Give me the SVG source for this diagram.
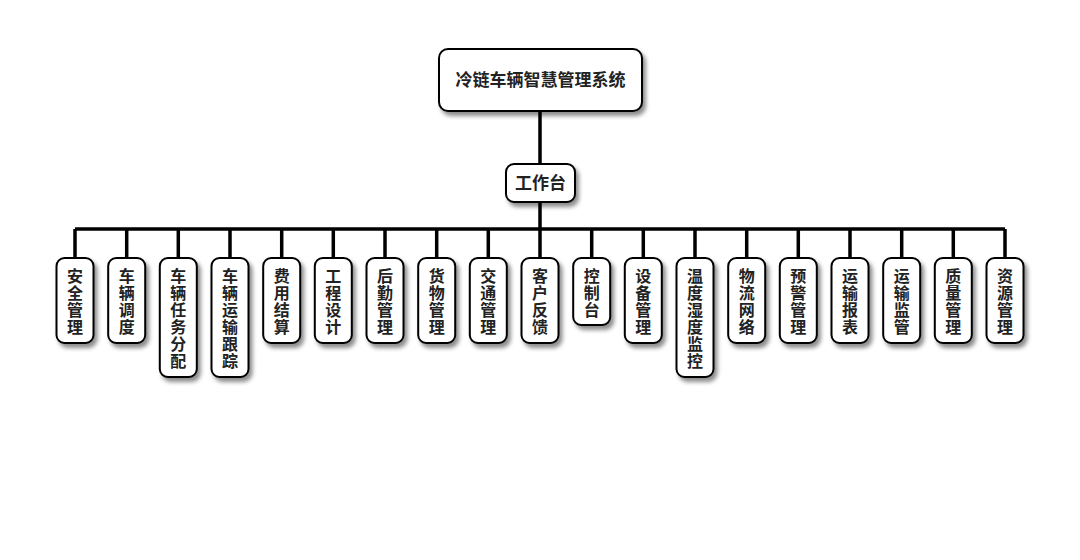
<svg xmlns="http://www.w3.org/2000/svg" width="1080" height="560" viewBox="0 0 1080 560">
<style>
.box{fill:#fff;stroke:#000;stroke-width:2;filter:url(#sh)}
.t{font-family:"Noto Sans CJK SC","Noto Sans",sans-serif;font-weight:bold;font-size:17px;fill:#222;text-anchor:middle}
.c{font-size:16px}
.ln{stroke:#000;stroke-width:3.5;fill:none}
</style>
<defs>
<filter id="sh" x="-30%" y="-30%" width="160%" height="160%">
<feDropShadow dx="3" dy="4" stdDeviation="2" flood-color="#000" flood-opacity="0.45"/>
</filter>
</defs>
<rect width="1080" height="560" fill="#fff"/>
<g id="connectors">
<path class="ln" d="M540 112V164M540 202V229M75 229H1005"/>
<path class="ln" d="M75 229V258M126.7 229V258M178.3 229V258M230 229V258M281.7 229V258M333.3 229V258M385 229V258M436.7 229V258M488.3 229V258M540 229V258M591.7 229V258M643.3 229V258M695 229V258M746.7 229V258M798.3 229V258M850 229V258M901.7 229V258M953.3 229V258M1005 229V258"/>
</g>
<g id="root"><rect class="box" x="439" y="49" width="203" height="62" rx="9"/><text class="t" x="540.5" y="86">冷链车辆智慧管理系统</text></g>
<g id="workbench"><rect class="box" x="506" y="164" width="69" height="38" rx="8"/><text class="t" x="540.5" y="189">工作台</text></g>
<g id="n1"><rect class="box" x="56.5" y="258" width="37" height="85" rx="8"/><text class="t c" x="75" y="281.5"><tspan x="75">安</tspan><tspan x="75" dy="17">全</tspan><tspan x="75" dy="17">管</tspan><tspan x="75" dy="17">理</tspan></text></g>
<g id="n2"><rect class="box" x="108.2" y="258" width="37" height="85" rx="8"/><text class="t c" x="126.7" y="281.5"><tspan x="126.7">车</tspan><tspan x="126.7" dy="17">辆</tspan><tspan x="126.7" dy="17">调</tspan><tspan x="126.7" dy="17">度</tspan></text></g>
<g id="n3"><rect class="box" x="159.8" y="258" width="37" height="119" rx="8"/><text class="t c" x="178.3" y="281.5"><tspan x="178.3">车</tspan><tspan x="178.3" dy="17">辆</tspan><tspan x="178.3" dy="17">任</tspan><tspan x="178.3" dy="17">务</tspan><tspan x="178.3" dy="17">分</tspan><tspan x="178.3" dy="17">配</tspan></text></g>
<g id="n4"><rect class="box" x="211.5" y="258" width="37" height="119" rx="8"/><text class="t c" x="230" y="281.5"><tspan x="230">车</tspan><tspan x="230" dy="17">辆</tspan><tspan x="230" dy="17">运</tspan><tspan x="230" dy="17">输</tspan><tspan x="230" dy="17">跟</tspan><tspan x="230" dy="17">踪</tspan></text></g>
<g id="n5"><rect class="box" x="263.2" y="258" width="37" height="85" rx="8"/><text class="t c" x="281.7" y="281.5"><tspan x="281.7">费</tspan><tspan x="281.7" dy="17">用</tspan><tspan x="281.7" dy="17">结</tspan><tspan x="281.7" dy="17">算</tspan></text></g>
<g id="n6"><rect class="box" x="314.8" y="258" width="37" height="85" rx="8"/><text class="t c" x="333.3" y="281.5"><tspan x="333.3">工</tspan><tspan x="333.3" dy="17">程</tspan><tspan x="333.3" dy="17">设</tspan><tspan x="333.3" dy="17">计</tspan></text></g>
<g id="n7"><rect class="box" x="366.5" y="258" width="37" height="85" rx="8"/><text class="t c" x="385" y="281.5"><tspan x="385">后</tspan><tspan x="385" dy="17">勤</tspan><tspan x="385" dy="17">管</tspan><tspan x="385" dy="17">理</tspan></text></g>
<g id="n8"><rect class="box" x="418.2" y="258" width="37" height="85" rx="8"/><text class="t c" x="436.7" y="281.5"><tspan x="436.7">货</tspan><tspan x="436.7" dy="17">物</tspan><tspan x="436.7" dy="17">管</tspan><tspan x="436.7" dy="17">理</tspan></text></g>
<g id="n9"><rect class="box" x="469.8" y="258" width="37" height="85" rx="8"/><text class="t c" x="488.3" y="281.5"><tspan x="488.3">交</tspan><tspan x="488.3" dy="17">通</tspan><tspan x="488.3" dy="17">管</tspan><tspan x="488.3" dy="17">理</tspan></text></g>
<g id="n10"><rect class="box" x="521.5" y="258" width="37" height="85" rx="8"/><text class="t c" x="540" y="281.5"><tspan x="540">客</tspan><tspan x="540" dy="17">户</tspan><tspan x="540" dy="17">反</tspan><tspan x="540" dy="17">馈</tspan></text></g>
<g id="n11"><rect class="box" x="573.2" y="258" width="37" height="67" rx="8"/><text class="t c" x="591.7" y="281.5"><tspan x="591.7">控</tspan><tspan x="591.7" dy="17">制</tspan><tspan x="591.7" dy="17">台</tspan></text></g>
<g id="n12"><rect class="box" x="624.8" y="258" width="37" height="85" rx="8"/><text class="t c" x="643.3" y="281.5"><tspan x="643.3">设</tspan><tspan x="643.3" dy="17">备</tspan><tspan x="643.3" dy="17">管</tspan><tspan x="643.3" dy="17">理</tspan></text></g>
<g id="n13"><rect class="box" x="676.5" y="258" width="37" height="119" rx="8"/><text class="t c" x="695" y="281.5"><tspan x="695">温</tspan><tspan x="695" dy="17">度</tspan><tspan x="695" dy="17">湿</tspan><tspan x="695" dy="17">度</tspan><tspan x="695" dy="17">监</tspan><tspan x="695" dy="17">控</tspan></text></g>
<g id="n14"><rect class="box" x="728.2" y="258" width="37" height="85" rx="8"/><text class="t c" x="746.7" y="281.5"><tspan x="746.7">物</tspan><tspan x="746.7" dy="17">流</tspan><tspan x="746.7" dy="17">网</tspan><tspan x="746.7" dy="17">络</tspan></text></g>
<g id="n15"><rect class="box" x="779.8" y="258" width="37" height="85" rx="8"/><text class="t c" x="798.3" y="281.5"><tspan x="798.3">预</tspan><tspan x="798.3" dy="17">警</tspan><tspan x="798.3" dy="17">管</tspan><tspan x="798.3" dy="17">理</tspan></text></g>
<g id="n16"><rect class="box" x="831.5" y="258" width="37" height="85" rx="8"/><text class="t c" x="850" y="281.5"><tspan x="850">运</tspan><tspan x="850" dy="17">输</tspan><tspan x="850" dy="17">报</tspan><tspan x="850" dy="17">表</tspan></text></g>
<g id="n17"><rect class="box" x="883.2" y="258" width="37" height="85" rx="8"/><text class="t c" x="901.7" y="281.5"><tspan x="901.7">运</tspan><tspan x="901.7" dy="17">输</tspan><tspan x="901.7" dy="17">监</tspan><tspan x="901.7" dy="17">管</tspan></text></g>
<g id="n18"><rect class="box" x="934.8" y="258" width="37" height="85" rx="8"/><text class="t c" x="953.3" y="281.5"><tspan x="953.3">质</tspan><tspan x="953.3" dy="17">量</tspan><tspan x="953.3" dy="17">管</tspan><tspan x="953.3" dy="17">理</tspan></text></g>
<g id="n19"><rect class="box" x="986.5" y="258" width="37" height="85" rx="8"/><text class="t c" x="1005" y="281.5"><tspan x="1005">资</tspan><tspan x="1005" dy="17">源</tspan><tspan x="1005" dy="17">管</tspan><tspan x="1005" dy="17">理</tspan></text></g>
</svg>
